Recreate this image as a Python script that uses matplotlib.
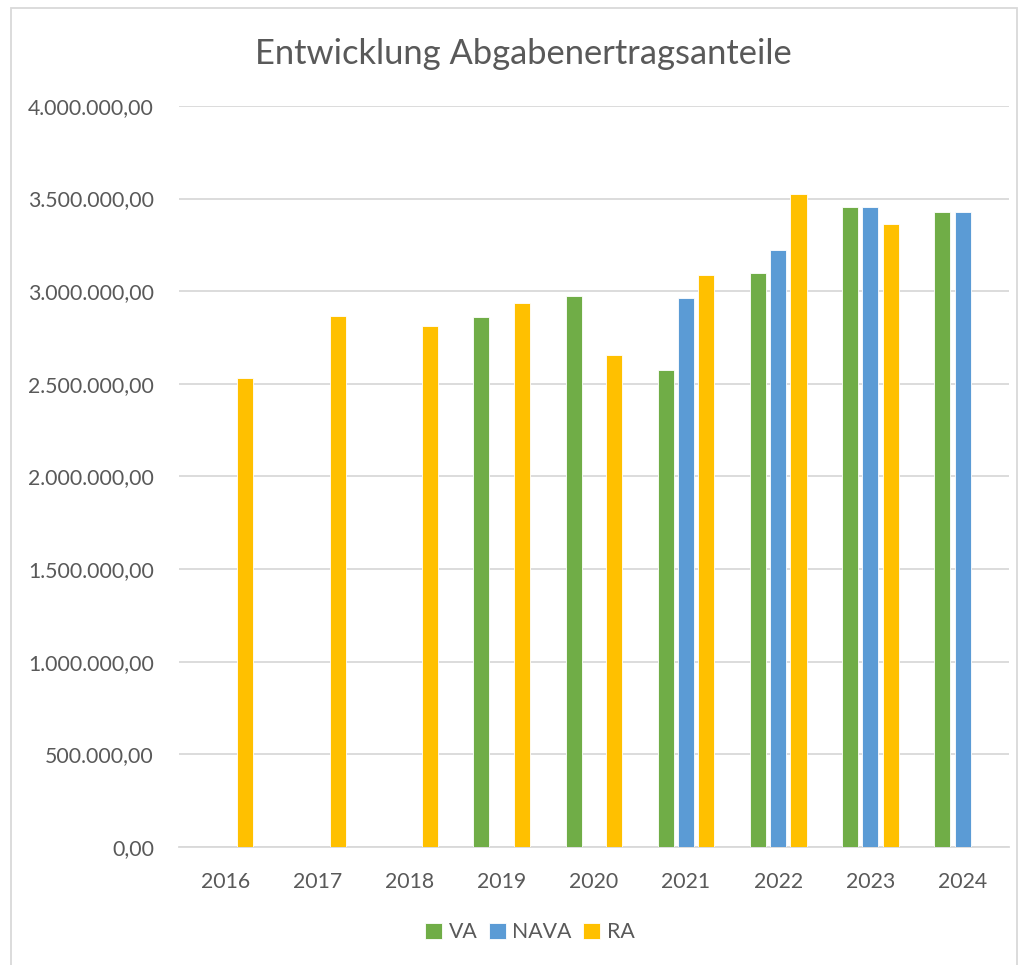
import numpy as np
import matplotlib
matplotlib.use("Agg")
import matplotlib.pyplot as plt
from matplotlib.patches import Rectangle
from matplotlib.ticker import FuncFormatter, MultipleLocator

years = ["2016", "2017", "2018", "2019", "2020", "2021", "2022", "2023", "2024"]
# nan = no bar for that year
va = [np.nan, np.nan, np.nan, 2860000, 2974000, 2574000, 3096000, 3454000, 3427000]
nava = [np.nan, np.nan, np.nan, np.nan, np.nan, 2963000, 3222000, 3454000, 3427000]
ra = [2533000, 2864000, 2812000, 2936000, 2658000, 3089000, 3522000, 3365000, np.nan]

series = [("VA", va, "#70AD47"), ("NAVA", nava, "#5B9BD5"), ("RA", ra, "#FFC000")]
text_col = "#595959"
grid_col = "#D9D9D9"

plt.rcParams['font.family'] = ['Lato', 'DejaVu Sans']

fig = plt.figure(figsize=(10.23, 9.65), dpi=100)
ax = fig.add_axes([0.175, 0.1223, 0.811, 0.768])

x = np.arange(len(years))
pitch = 0.22
width = 0.174
for i, (name, vals, col) in enumerate(series):
    ax.bar(x + (i - 1) * pitch, vals, width, color=col, label=name,
           edgecolor="white", linewidth=0.6, zorder=3)

ax.set_xlim(-0.5, len(years) - 0.5)
ax.set_ylim(0, 4000000)
ax.yaxis.set_major_locator(MultipleLocator(500000))


def de_fmt(v, pos):
    s = f"{v:,.2f}"
    return s.replace(",", "X").replace(".", ",").replace("X", ".")


ax.yaxis.set_major_formatter(FuncFormatter(de_fmt))
ax.set_xticks(x)
ax.set_xticklabels(years)
ax.tick_params(axis="both", length=0, labelsize=15.3, colors=text_col)
ax.tick_params(axis="x", pad=18)
ax.tick_params(axis="y", pad=18)
ax.grid(axis="y", color=grid_col, linewidth=1.3, zorder=0)
for s in ["top", "right", "left"]:
    ax.spines[s].set_visible(False)
ax.spines["bottom"].set_color(grid_col)
ax.spines["bottom"].set_linewidth(1.3)

fig.text(0.512, 0.944, "Entwicklung Abgabenertragsanteile", ha="center", va="center",
         fontsize=24.8, color=text_col)

fig.legend(loc="center", bbox_to_anchor=(0.518, 0.034), ncol=3, frameon=False,
           fontsize=15.3, handlelength=0.8, handleheight=0.8, handletextpad=0.3,
           columnspacing=0.55, labelcolor=text_col)

fig.patches.append(Rectangle((11 / 1023, -0.01), 1006 / 1023, 1 - 8 / 965 + 0.01,
                             transform=fig.transFigure, fill=False,
                             edgecolor=grid_col, linewidth=1.3))

fig.savefig("out.png", dpi=100)
